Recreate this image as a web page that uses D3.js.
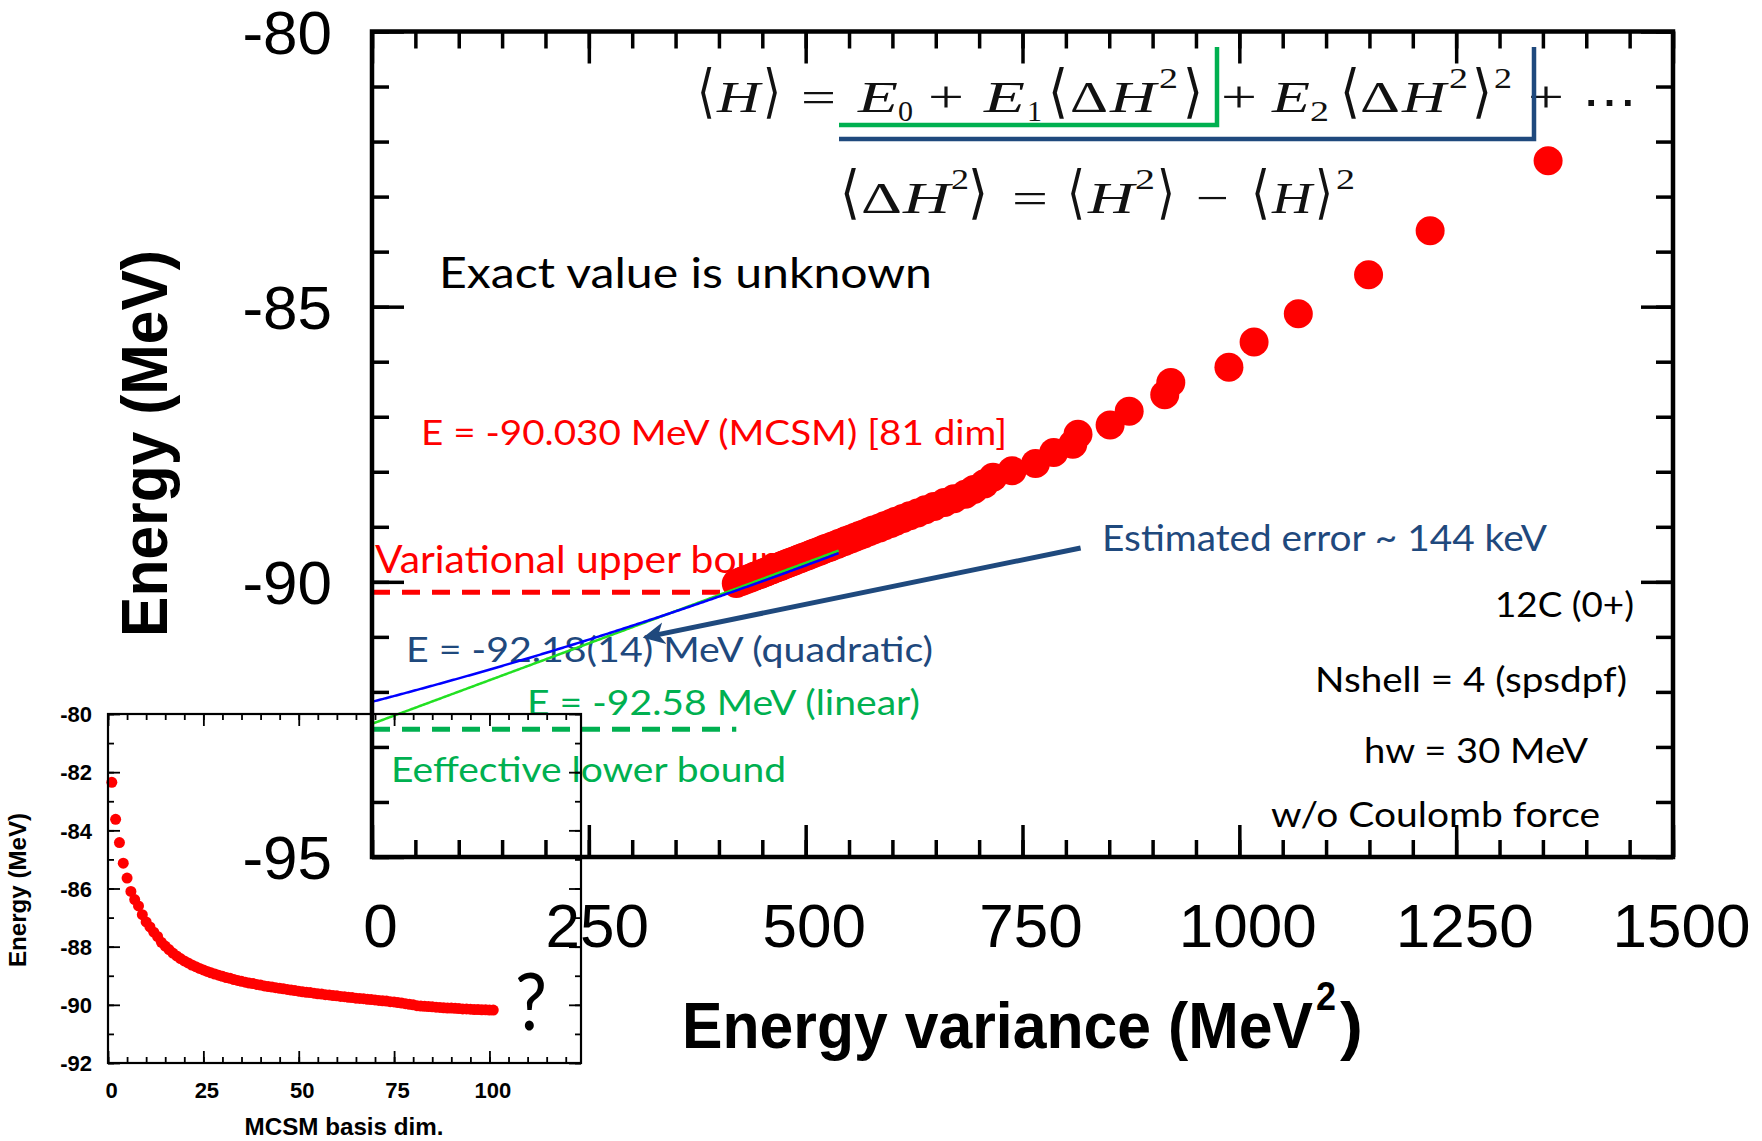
<!DOCTYPE html>
<html>
<head>
<meta charset="utf-8">
<script src="https://cdn.jsdelivr.net/npm/d3@7"></script>
<style>body{margin:0;background:#fff}</style>
</head>
<body>
<div id="chart"></div>
<script>
// energy for each MCSM basis dimension (1..101)
var energyByDim = [
  -82.35, -83.62, -84.42, -85.13, -85.64, -86.10, -86.38, -86.60, -86.90, -87.15,
  -87.32, -87.50, -87.65, -87.85, -87.98, -88.10, -88.22, -88.32, -88.41, -88.49,
  -88.56, -88.63, -88.69, -88.75, -88.80, -88.85, -88.90, -88.94, -88.98, -89.02,
  -89.06, -89.09, -89.13, -89.16, -89.19, -89.22, -89.25, -89.27, -89.30, -89.32,
  -89.35, -89.37, -89.39, -89.41, -89.43, -89.45, -89.47, -89.49, -89.51, -89.53,
  -89.55, -89.57, -89.58, -89.60, -89.62, -89.63, -89.65, -89.66, -89.68, -89.69,
  -89.71, -89.72, -89.74, -89.75, -89.77, -89.78, -89.79, -89.81, -89.82, -89.83,
  -89.85, -89.86, -89.87, -89.89, -89.90, -89.92, -89.94, -89.96, -89.98, -90.00,
  -90.03, -90.04, -90.05, -90.06, -90.07, -90.08, -90.09, -90.10, -90.11, -90.11,
  -90.12, -90.13, -90.14, -90.14, -90.15, -90.16, -90.16, -90.17, -90.17, -90.18,
  -90.18
];

// energy variance of the first 81 states (main panel)
var variance = [
  1356, 1220, 1149, 1068, 1017, 988, 921, 914, 873, 851,
  814, 808, 786, 765, 738, 716, 706, 694, 684, 671,
  660, 648, 638, 629, 620, 612, 604, 598, 591, 585,
  578, 573, 567, 562, 557, 552, 547, 544, 539, 536,
  531, 528, 524, 521, 518, 515, 511, 508, 505, 502,
  498, 495, 493, 490, 487, 485, 482, 480, 477, 475,
  472, 471, 467, 466, 462, 461, 459, 456, 454, 453,
  449, 448, 446, 443, 441, 438, 435, 431, 428, 425,
  420
];

// extrapolation fits  E = E0 + E1*v + E2*v^2
var quadFit = [-92.18, 0.004085, 0.00000174];
var linFit = [-92.58, 0.00585];
var fitEnd = 538;
var upperBound = -90.19;
var lowerBound = -92.68;
var boundEnd = 420;
var arrowFrom = [817, -89.385];
var arrowTo = [312, -91.015];

var mainXTicks = [0, 250, 500, 750, 1000, 1250, 1500];
var mainYTicks = [-95, -90, -85, -80];
var insetXTicks = [0, 25, 50, 75, 100];
var insetYTicks = [-92, -90, -88, -86, -84, -82, -80];

var SANS = "'Liberation Sans', Arial, sans-serif";
var CAL = "Lato, 'Open Sans', sans-serif";
var SERIF = "'Liberation Serif', 'DejaVu Serif', serif";
var RED = "#ff0000", GREEN = "#00b050", NAVY = "#1f497d";

var W = 1762, H = 1141;
var svg = d3.select("#chart").append("svg").attr("width", W).attr("height", H);
svg.append("rect").attr("width", W).attr("height", H).attr("fill", "#fff");

function drawAxes(xs, ys, o) {
  var g = svg.append("g");
  var xl = xs.range()[0], xr = xs.range()[1], yb = ys.range()[0], yt = ys.range()[1];
  var sides = [
    [d3.axisBottom, xs, "translate(0," + yb + ")", o.xMajor, o.xMinor, "x"],
    [d3.axisTop, xs, "translate(0," + yt + ")", o.xMajor, o.xMinor, null],
    [d3.axisLeft, ys, "translate(" + xl + ",0)", o.yMajor, o.yMinor, "y"],
    [d3.axisRight, ys, "translate(" + xr + ",0)", o.yMajor, o.yMinor, null]
  ];
  sides.forEach(function (s) {
    var minor = s[0](s[1]).tickValues(s[4]).tickSize(-o.small).tickFormat("");
    var major = s[0](s[1]).tickValues(s[3]).tickSize(-o.big)
      .tickFormat(s[5] ? function (d) { return String(d); } : "");
    [minor, major].forEach(function (a, k) {
      var ag = g.append("g").attr("transform", s[2]).call(a);
      ag.select(".domain").remove();
      ag.selectAll("line").attr("stroke", "#000").attr("stroke-width", o.tickW);
      if (k === 1 && s[5]) {
        var t = ag.selectAll("text")
          .attr("font-size", o.fontSize)
          .attr("font-family", SANS)
          .attr("font-weight", o.weight)
          .attr("fill", "#000");
        if (s[5] === "x") t.attr("y", o.xLabY).attr("dy", 0).attr("dx", o.xLabDx);
        else t.attr("x", -o.yLabX).attr("dy", "0.35em");
      }
    });
  });
  g.append("rect")
    .attr("x", xl).attr("y", yt)
    .attr("width", xr - xl).attr("height", yb - yt)
    .attr("fill", "none").attr("stroke", "#000").attr("stroke-width", o.frameW);
}

function label(txt, x, y, size, color, width, anchor, weight) {
  var t = svg.append("text")
    .attr("x", x).attr("y", y)
    .attr("font-family", CAL)
    .attr("font-size", size)
    .attr("fill", color)
    .attr("text-anchor", anchor || "start")
    .text(txt);
  if (weight) t.attr("font-weight", weight);
  if (width) t.attr("textLength", width).attr("lengthAdjust", "spacingAndGlyphs");
  return t;
}

// ---------------- main panel ----------------
var x = d3.scaleLinear().domain([0, 1500]).range([372, 1673]);
var y = d3.scaleLinear().domain([-95, -80]).range([857, 31.5]);

// annotations that sit under the points
label("Exact value is unknown", 439, 288, 42, "#000", 493);
label("E = -90.030 MeV (MCSM) [81 dim]", 421, 445, 35, RED, 586);
label("Variational upper bound", 375, 573, 38.5, RED, 430);
label("Estimated error ~ 144 keV", 1102, 551, 36, NAVY, 445);
label("E = -92.18(14) MeV (quadratic)", 406, 662, 35, NAVY, 527);
label("E = -92.58 MeV (linear)", 527, 715, 35, GREEN, 393);
label("Eeffective lower bound", 391, 782, 35, GREEN, 395);
label("12C (0+)", 1634, 617, 34, "#000", 139, "end");
label("Nshell = 4 (spsdpf)", 1627, 692, 34, "#000", 312, "end");
label("hw = 30 MeV", 1588, 763, 34, "#000", 224, "end");
label("w/o Coulomb force", 1600, 827, 34, "#000", 329, "end");

// bounds
svg.append("line")
  .attr("x1", x(0)).attr("x2", x(boundEnd))
  .attr("y1", y(upperBound)).attr("y2", y(upperBound))
  .attr("stroke", RED).attr("stroke-width", 5).attr("stroke-dasharray", "18,12");
svg.append("line")
  .attr("x1", x(0)).attr("x2", x(boundEnd))
  .attr("y1", y(lowerBound)).attr("y2", y(lowerBound))
  .attr("stroke", GREEN).attr("stroke-width", 5).attr("stroke-dasharray", "18,12");

// data points
var mainData = variance.map(function (v, i) { return { v: v, e: energyByDim[i] }; });
svg.append("g").selectAll("circle")
  .data(mainData)
  .enter()
  .append("circle")
  .attr("cx", function (d) { return x(d.v); })
  .attr("cy", function (d) { return y(d.e); })
  .attr("r", 14.5)
  .attr("fill", RED);

// fit curves
var vs = d3.range(0, fitEnd + 1, 2);
var fitLine = d3.line()
  .x(function (d) { return x(d[0]); })
  .y(function (d) { return y(d[1]); });
svg.append("path")
  .attr("d", fitLine(vs.map(function (v) { return [v, linFit[0] + linFit[1] * v]; })))
  .attr("fill", "none").attr("stroke", "#22e022").attr("stroke-width", 2.5);
svg.append("path")
  .attr("d", fitLine(vs.map(function (v) { return [v, quadFit[0] + quadFit[1] * v + quadFit[2] * v * v]; })))
  .attr("fill", "none").attr("stroke", "#0000ff").attr("stroke-width", 2.5);

// arrow
svg.append("defs").append("marker")
  .attr("id", "ah")
  .attr("markerUnits", "userSpaceOnUse")
  .attr("markerWidth", 26).attr("markerHeight", 24)
  .attr("refX", 14).attr("refY", 12)
  .attr("orient", "auto")
  .append("path")
  .attr("d", "M0,1 L22,12 L0,23 L6,12 Z")
  .attr("fill", NAVY);
svg.append("line")
  .attr("x1", x(arrowFrom[0])).attr("y1", y(arrowFrom[1]))
  .attr("x2", x(arrowTo[0]) + 8).attr("y2", y(arrowTo[1]) - 1.6)
  .attr("stroke", NAVY).attr("stroke-width", 5)
  .attr("marker-end", "url(#ah)");

// formulas
function formula(glyphs, base) {
  var t = svg.append("text").attr("font-family", SERIF).attr("fill", "#111");
  glyphs.forEach(function (gl) {
    var kind = gl[3];
    var size = 45, dy = 0, fam = SERIF, style = "normal";
    if (kind === "i") style = "italic";
    if (kind === "b") { size = 58; fam = "'DejaVu Serif', serif"; dy = -1; }
    if (kind === "sub") { size = 30; dy = 9; }
    if (kind === "sup") { size = 30; dy = -24; }
    if (kind === "dots") { fam = "'DejaVu Serif', serif"; dy = 4; }
    t.append("tspan")
      .attr("x", gl[1]).attr("y", base + dy)
      .attr("font-size", size).attr("font-style", style).attr("font-family", fam)
      .attr("textLength", gl[2] - gl[1]).attr("lengthAdjust", "spacingAndGlyphs")
      .text(gl[0]);
  });
}
formula([
  ["\u27E8", 697, 715, "b"], ["H", 717, 760, "i"], ["\u27E9", 763, 781, "b"],
  ["=", 801, 836, "n"],
  ["E", 858, 898, "i"], ["0", 898, 913, "sub"],
  ["+", 928, 964, "n"],
  ["E", 984, 1025, "i"], ["1", 1027, 1042, "sub"],
  ["\u27E8", 1048, 1068, "b"], ["\u0394", 1070, 1108, "n"], ["H", 1110, 1156, "i"],
  ["2", 1159, 1178, "sup"], ["\u27E9", 1183, 1203, "b"],
  ["+", 1221, 1257, "n"],
  ["E", 1272, 1310, "i"], ["2", 1310, 1329, "sub"],
  ["\u27E8", 1340, 1360, "b"], ["\u0394", 1360, 1400, "n"], ["H", 1402, 1446, "i"],
  ["2", 1449, 1468, "sup"], ["\u27E9", 1472, 1492, "b"], ["2", 1494, 1512, "sup"],
  ["+", 1528, 1564, "n"],
  ["\u22EF", 1582, 1637, "dots"]
], 112);
formula([
  ["\u27E8", 840, 860, "b"], ["\u0394", 861, 902, "n"], ["H", 903, 950, "i"],
  ["2", 951, 969, "sup"], ["\u27E9", 968, 988, "b"],
  ["=", 1012, 1048, "n"],
  ["\u27E8", 1067, 1085, "b"], ["H", 1088, 1134, "i"], ["2", 1135, 1155, "sup"],
  ["\u27E9", 1157, 1175, "b"],
  ["\u2212", 1196, 1229, "n"],
  ["\u27E8", 1251, 1270, "b"], ["H", 1272, 1312, "i"], ["\u27E9", 1315, 1333, "b"],
  ["2", 1336, 1355, "sup"]
], 213);

// which terms belong to which fit
svg.append("path").attr("d", "M839,125 H1217 V47")
  .attr("fill", "none").attr("stroke", GREEN).attr("stroke-width", 4.5);
svg.append("path").attr("d", "M839,139 H1534 V47")
  .attr("fill", "none").attr("stroke", NAVY).attr("stroke-width", 4.5);

drawAxes(x, y, {
  xMajor: mainXTicks, xMinor: d3.range(0, 1501, 50),
  yMajor: mainYTicks, yMinor: d3.range(-95, -79, 1),
  big: 32, small: 17, tickW: 3.5, frameW: 4.5,
  fontSize: 62, weight: "normal", xLabY: 90, xLabDx: 8, yLabX: 40
});

// axis titles
svg.append("text")
  .attr("x", 682).attr("y", 1048)
  .attr("font-family", SANS).attr("font-size", 65).attr("font-weight", "bold")
  .attr("textLength", 631).attr("lengthAdjust", "spacingAndGlyphs")
  .text("Energy variance (MeV");
svg.append("text")
  .attr("x", 1316).attr("y", 1010)
  .attr("font-family", SANS).attr("font-size", 40).attr("font-weight", "bold")
  .attr("textLength", 20).attr("lengthAdjust", "spacingAndGlyphs")
  .text("2");
svg.append("text")
  .attr("x", 1340).attr("y", 1048)
  .attr("font-family", SANS).attr("font-size", 65).attr("font-weight", "bold")
  .attr("textLength", 23).attr("lengthAdjust", "spacingAndGlyphs")
  .text(")");
svg.append("text")
  .attr("transform", "translate(167,443.5) rotate(-90)")
  .attr("text-anchor", "middle")
  .attr("font-family", SANS).attr("font-size", 65).attr("font-weight", "bold")
  .attr("textLength", 387).attr("lengthAdjust", "spacingAndGlyphs")
  .text("Energy (MeV)");

// ---------------- inset ----------------
var ix = d3.scaleLinear().domain([0, 124]).range([108, 581]);
var iy = d3.scaleLinear().domain([-92, -80]).range([1063, 714]);

svg.append("g").selectAll("circle")
  .data(energyByDim)
  .enter()
  .append("circle")
  .attr("cx", function (d, i) { return ix(i + 1); })
  .attr("cy", function (d) { return iy(d); })
  .attr("r", 5.5)
  .attr("fill", RED);

drawAxes(ix, iy, {
  xMajor: insetXTicks, xMinor: d3.range(0, 125, 5),
  yMajor: insetYTicks, yMinor: d3.range(-92, -79, 1),
  big: 12, small: 6, tickW: 1.8, frameW: 2.2,
  fontSize: 22, weight: "bold", xLabY: 35, xLabDx: 3, yLabX: 16
});

svg.append("text")
  .attr("x", 344).attr("y", 1135)
  .attr("text-anchor", "middle")
  .attr("font-family", SANS).attr("font-size", 24).attr("font-weight", "bold")
  .attr("textLength", 199).attr("lengthAdjust", "spacingAndGlyphs")
  .text("MCSM basis dim.");
svg.append("text")
  .attr("transform", "translate(26,890) rotate(-90)")
  .attr("text-anchor", "middle")
  .attr("font-family", SANS).attr("font-size", 23).attr("font-weight", "bold")
  .attr("textLength", 154).attr("lengthAdjust", "spacingAndGlyphs")
  .text("Energy (MeV)");
label("?", 515, 1030, 79, "#000", 32);
</script>
</body>
</html>
